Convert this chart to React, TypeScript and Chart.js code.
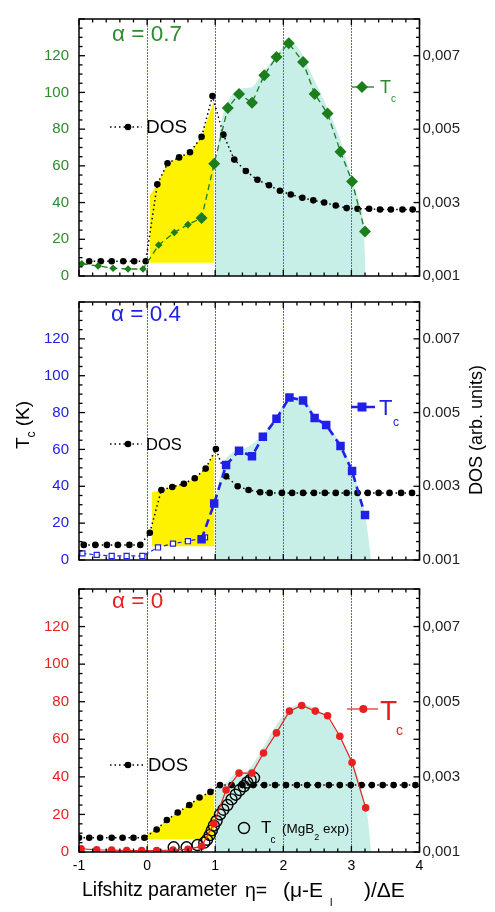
import React, { useEffect, useRef } from "react";
import { Chart, registerables } from "chart.js";

Chart.register(...registerables);

const FONT = "Arial, 'Liberation Sans', Helvetica, sans-serif";

// ---------------- axes ----------------
const X_MIN = -1;
const X_MAX = 4;
const TC_MIN = 0;
const TC_MAX = 140;
const DOS_MIN = 0.001;
const DOS_MAX = 0.008;
const X_TICKS = [-1, 0, 1, 2, 3, 4];
const TC_TICKS = [0, 20, 40, 60, 80, 100, 120];
const DOS_TICKS = [0.001, 0.003, 0.005, 0.007];
const GUIDE_X = [0, 1, 2, 3];

// ---------------- alpha = 0.7 ----------------
const a07DosX = [-0.85, -0.68, -0.52, -0.35, -0.19, -0.02, 0.15, 0.3, 0.47, 0.63, 0.8, 0.96, 1.12, 1.28, 1.45, 1.62, 1.79, 1.95, 2.11, 2.28, 2.44, 2.6, 2.77, 2.93, 3.09, 3.26, 3.42, 3.58, 3.75, 3.9];
const a07Dos = [0.0014, 0.0014, 0.0014, 0.0014, 0.0014, 0.0014, 0.0035, 0.00407, 0.00423, 0.00437, 0.00479, 0.0059, 0.00485, 0.00417, 0.00386, 0.00362, 0.00347, 0.00332, 0.00322, 0.00313, 0.00306, 0.003, 0.00292, 0.00285, 0.00283, 0.00283, 0.00281, 0.00281, 0.00281, 0.00281];
const a07TcX = [-0.96, -0.72, -0.5, -0.28, -0.06, 0.17, 0.4, 0.6, 0.8, 0.985, 1.185, 1.35, 1.54, 1.72, 1.9, 2.08, 2.29, 2.46, 2.65, 2.84, 3.01, 3.2];
const a07Tc = [6.7, 5.5, 4.2, 3.8, 3.8, 16.9, 23.7, 28, 31.6, 61.2, 91.5, 99.2, 94.4, 109.4, 119.3, 126.8, 116.6, 99.2, 88.5, 67.7, 51.5, 24.2];
const a07YellowX = [0.04, 0.15, 0.3, 0.47, 0.63, 0.8, 0.985];
const a07Yellow = [0.0032, 0.0035, 0.00407, 0.00423, 0.00437, 0.00479, 0.0058];
const a07YellowBase = 0.00136;
const a07CyanX = [1.0, 1.04, 1.1, 1.2, 1.37, 1.54, 1.72, 1.9, 2.08, 2.24, 2.44, 2.63, 2.83, 3.0, 3.12, 3.18, 3.21];
const a07Cyan = [58, 72, 86, 96, 102, 103, 112, 120, 128, 123, 108, 93, 75, 54, 39, 27, 0];

// ---------------- alpha = 0.4 ----------------
const a04DosX = [-0.93, -0.76, -0.59, -0.43, -0.26, -0.1, 0.04, 0.21, 0.37, 0.54, 0.7, 0.86, 1.01, 1.16, 1.33, 1.49, 1.66, 1.8, 1.98, 2.13, 2.29, 2.45, 2.61, 2.77, 2.93, 3.09, 3.24, 3.4, 3.56, 3.73, 3.89];
const a04Dos = [0.00141, 0.00141, 0.00141, 0.00141, 0.00141, 0.00141, 0.00174, 0.0029, 0.00298, 0.00307, 0.00322, 0.00348, 0.00401, 0.00327, 0.003, 0.0029, 0.00284, 0.00282, 0.00282, 0.00282, 0.00282, 0.00282, 0.00282, 0.00282, 0.00282, 0.00282, 0.00282, 0.00282, 0.00282, 0.00282, 0.00282];
const a04TcOpenX = [-0.95, -0.74, -0.52, -0.3, -0.07, 0.16, 0.38, 0.6, 0.85];
const a04TcOpen = [3.6, 2.8, 2.2, 2.2, 2.2, 6.8, 8.9, 10.2, 12.3];
const a04TcX = [0.8, 0.985, 1.16, 1.35, 1.54, 1.7, 1.9, 2.09, 2.29, 2.46, 2.63, 2.84, 3.01, 3.2];
const a04Tc = [11.3, 30.7, 51.5, 59.3, 56.3, 66.9, 76.7, 88.2, 86.6, 77.1, 73.3, 61.9, 48.3, 24.4];
const a04YellowX = [0.07, 0.21, 0.37, 0.54, 0.7, 0.86, 0.99];
const a04Yellow = [0.00284, 0.0029, 0.00298, 0.00307, 0.00322, 0.00348, 0.00394];
const a04YellowBase = 0.00137;
const a04CyanX = [1.0, 1.02, 1.12, 1.27, 1.46, 1.7, 1.9, 2.1, 2.29, 2.46, 2.63, 2.83, 3.01, 3.12, 3.22, 3.29];
const a04Cyan = [32, 36, 52, 58.6, 61, 68, 78, 88, 88, 79, 74, 64, 50, 36, 20, 0];

// ---------------- alpha = 0 ----------------
const a0DosX = [-1, -0.85, -0.69, -0.52, -0.36, -0.2, -0.04, 0.14, 0.29, 0.45, 0.62, 0.77, 0.93, 1.07, 1.24, 1.4, 1.56, 1.72, 1.88, 2.04, 2.2, 2.35, 2.51, 2.67, 2.83, 2.99, 3.15, 3.3, 3.46, 3.62, 3.78, 3.94];
const a0Dos = [0.00138, 0.00138, 0.00138, 0.00138, 0.00138, 0.00138, 0.00138, 0.0016, 0.00185, 0.00205, 0.00225, 0.00245, 0.0026, 0.00278, 0.00278, 0.00278, 0.00278, 0.00278, 0.00278, 0.00278, 0.00278, 0.00278, 0.00278, 0.00278, 0.00278, 0.00278, 0.00278, 0.00278, 0.00278, 0.00278, 0.00278, 0.00278];
const a0TcX = [-0.97, -0.74, -0.52, -0.3, -0.08, 0.14, 0.38, 0.6, 0.8, 0.98, 1.16, 1.35, 1.54, 1.71, 1.9, 2.09, 2.27, 2.47, 2.65, 2.83, 3.01, 3.21];
const a0Tc = [1.7, 1.2, 1.0, 0.8, 0.8, 0.8, 1.0, 1.5, 3, 15, 33, 42, 42, 52.7, 63.4, 75, 78, 75, 72.5, 61.6, 47.6, 23.5];
const mgb2X = [0.39, 0.58, 0.74, 0.84, 0.88, 0.92, 0.95, 0.98, 1.02, 1.07, 1.12, 1.18, 1.24, 1.3, 1.36, 1.42, 1.47, 1.52, 1.57];
const mgb2Tc = [2.5, 2.5, 3.7, 5, 6.5, 9, 11.5, 14, 16.5, 20, 22.5, 25, 28, 30.5, 33, 35, 37, 38.5, 39.5];
const a0YellowX = [0.0, 0.14, 0.29, 0.45, 0.62, 0.77, 0.93, 0.99];
const a0Yellow = [0.00149, 0.0016, 0.00185, 0.00205, 0.00225, 0.00245, 0.0026, 0.00269];
const a0YellowBase = 0.00134;
const a0CyanX = [1.0, 1.02, 1.17, 1.27, 1.46, 1.66, 1.85, 2.05, 2.24, 2.44, 2.63, 2.83, 3.02, 3.17, 3.24, 3.29];
const a0Cyan = [30, 33, 37, 41, 43, 53, 65, 75, 78.5, 77, 72, 61, 48, 30, 18, 0];

// ---------------- colours ----------------
const GREEN_TXT = "#2e8b2e";
const GREEN = "#1b7d1b";
const BLUE = "#2020e6";
const RED = "#e82020";
const YELLOW = "#fff200";
const CYAN = "#c8efe7";
const GUIDE = "rgba(80, 80, 255, 0.95)";

const pts = (xs: number[], ys: number[]) => xs.map((x, i) => ({ x, y: ys[i] }));

function txt(ctx: CanvasRenderingContext2D, s: string, x: number, y: number, size: number, color: string, align: CanvasTextAlign = "left") {
  ctx.font = `${size}px ${FONT}`;
  ctx.fillStyle = color;
  ctx.textAlign = align;
  ctx.textBaseline = "middle";
  ctx.fillText(s, x, y);
  return ctx.measureText(s).width;
}

function seg(ctx: CanvasRenderingContext2D, x1: number, y1: number, x2: number, y2: number, color: string, w: number, dash: number[] = []) {
  ctx.save();
  ctx.strokeStyle = color;
  ctx.lineWidth = w;
  ctx.setLineDash(dash);
  ctx.beginPath();
  ctx.moveTo(x1, y1);
  ctx.lineTo(x2, y2);
  ctx.stroke();
  ctx.restore();
}

function dot(ctx: CanvasRenderingContext2D, x: number, y: number, r: number, fill: string | null, stroke?: string, w = 1) {
  ctx.beginPath();
  ctx.arc(x, y, r, 0, Math.PI * 2);
  if (fill) {
    ctx.fillStyle = fill;
    ctx.fill();
  }
  if (stroke) {
    ctx.strokeStyle = stroke;
    ctx.lineWidth = w;
    ctx.stroke();
  }
}

function dosLegend(ctx: CanvasRenderingContext2D, y: number, size: number, textX: number) {
  seg(ctx, 110, y, textX - 4, y, "#000", 1.5, [1.5, 3]);
  dot(ctx, 128, y, 3.3, "#000");
  txt(ctx, "DOS", textX, y + 1, size, "#000");
}

type PanelDef = {
  top: number;
  height: number;
  padTop: number;
  xH: number;
  tickColor: string;
  sep: string;
  showX: boolean;
  datasets: any[];
  decor: (ctx: CanvasRenderingContext2D) => void;
};

const framePlugin = {
  id: "frameTicks",
  afterDatasetDraw(chart: any, args: any) {
    if (chart.data.datasets[args.index].label !== "cyan") return;
    const { top, bottom } = chart.chartArea;
    const xs = chart.scales.x;
    GUIDE_X.forEach((v) => {
      const px = Math.round(xs.getPixelForValue(v)) + 0.5;
      seg(chart.ctx, px, top, px, bottom, GUIDE, 1, [2, 1]);
    });
  },
  afterDraw(chart: any) {
    const ctx: CanvasRenderingContext2D = chart.ctx;
    const { left, right, top, bottom } = chart.chartArea;
    const xs = chart.scales.x;
    const ys = chart.scales.y;
    ctx.save();
    for (let k = 0; k <= 25; k++) {
      const px = xs.getPixelForValue(X_MIN + k * 0.2);
      const L = k % 5 === 0 ? 6 : 3.5;
      seg(ctx, px, bottom, px, bottom - L, "#000", 1.3);
      seg(ctx, px, top, px, top + L, "#000", 1.3);
    }
    for (let k = 0; k <= 28; k++) {
      const py = ys.getPixelForValue(TC_MIN + k * 5);
      const L = k % 4 === 0 ? 6 : 3.5;
      seg(ctx, left, py, left + L, py, "#000", 1.3);
      seg(ctx, right, py, right - L, py, "#000", 1.3);
    }
    ctx.strokeStyle = "#000";
    ctx.lineWidth = 1.5;
    ctx.setLineDash([]);
    ctx.strokeRect(left, top, right - left, bottom - top);
    ctx.restore();
  },
};

function buildConfig(def: PanelDef): any {
  const decorPlugin = {
    id: "decor",
    afterDraw(chart: any) {
      const ctx: CanvasRenderingContext2D = chart.ctx;
      ctx.save();
      ctx.translate(0, -def.top);
      def.decor(ctx);
      ctx.restore();
    },
  };
  return {
    type: "line",
    data: { datasets: def.datasets },
    options: {
      responsive: false,
      animation: false,
      events: [],
      layout: { autoPadding: false, padding: { top: def.padTop, left: 0, right: 0, bottom: 0 } },
      plugins: { legend: { display: false }, tooltip: { enabled: false }, title: { display: false } },
      scales: {
        x: {
          type: "linear",
          min: X_MIN,
          max: X_MAX,
          position: "bottom",
          afterBuildTicks: (s: any) => {
            s.ticks = X_TICKS.map((v) => ({ value: v }));
          },
          ticks: {
            display: def.showX,
            color: "#000",
            font: { size: 14, family: FONT },
            padding: 6,
            maxRotation: 0,
            autoSkip: false,
            callback: (v: number) => String(v),
          },
          grid: { display: false, drawTicks: false },
          border: { display: false },
          afterFit: (s: any) => {
            s.height = def.xH;
          },
        },
        y: {
          type: "linear",
          min: TC_MIN,
          max: TC_MAX,
          position: "left",
          afterBuildTicks: (s: any) => {
            s.ticks = TC_TICKS.map((v) => ({ value: v }));
          },
          ticks: {
            color: def.tickColor,
            font: { size: 15, family: FONT },
            padding: 10,
            callback: (v: number) => String(v),
          },
          grid: { display: false, drawTicks: false },
          border: { display: false },
          afterFit: (s: any) => {
            s.width = 79;
          },
        },
        y1: {
          type: "linear",
          min: DOS_MIN,
          max: DOS_MAX,
          position: "right",
          afterBuildTicks: (s: any) => {
            s.ticks = DOS_TICKS.map((v) => ({ value: v }));
          },
          ticks: {
            color: "#222",
            font: { size: 15, family: FONT },
            padding: 3,
            callback: (v: number) => v.toFixed(3).replace(".", def.sep),
          },
          grid: { display: false, drawTicks: false },
          border: { display: false },
          afterFit: (s: any) => {
            s.width = 75.5;
          },
        },
      },
    },
    plugins: [framePlugin, decorPlugin],
  };
}

const dosDataset = (xs: number[], ys: number[]) => ({
  label: "DOS",
  data: pts(xs, ys),
  yAxisID: "y1",
  order: 2,
  borderColor: "#000",
  borderWidth: 1.5,
  borderDash: [1.5, 3],
  pointRadius: 3.3,
  pointBackgroundColor: "#000",
  pointBorderWidth: 0,
  fill: false,
});

const yellowDataset = (xs: number[], ys: number[], base: number) => ({
  label: "yellow",
  data: pts(xs, ys),
  yAxisID: "y1",
  order: 11,
  borderWidth: 0,
  borderColor: "rgba(0,0,0,0)",
  backgroundColor: YELLOW,
  pointRadius: 0,
  fill: { value: base },
});

const cyanDataset = (xs: number[], ys: number[]) => ({
  label: "cyan",
  data: pts(xs, ys),
  yAxisID: "y",
  order: 10,
  borderWidth: 0,
  borderColor: "rgba(0,0,0,0)",
  backgroundColor: CYAN,
  pointRadius: 0,
  cubicInterpolationMode: "monotone",
  fill: "origin",
});

function xTitle(ctx: CanvasRenderingContext2D) {
  const y = 891;
  const f = 19.5;
  txt(ctx, "Lifshitz parameter", 82, y, f, "#000");
  txt(ctx, "η=", 245, y + 1, f, "#000");
  const w = txt(ctx, "(μ-E", 283, y, 21, "#000");
  txt(ctx, "l", 283 + w + 7, y + 12, 11, "#000");
  txt(ctx, ")/ΔE", 364, y, 21, "#000");
}

const PANELS: PanelDef[] = [
  {
    top: 0,
    height: 295,
    padTop: 9,
    xH: 13,
    tickColor: GREEN_TXT,
    sep: ",",
    showX: false,
    datasets: [
      {
        label: "Tc",
        data: pts(a07TcX, a07Tc),
        yAxisID: "y",
        order: 0,
        borderColor: GREEN,
        borderWidth: 1.3,
        borderDash: [6, 4],
        pointStyle: "rectRot",
        pointRadius: (c: any) => (c.raw && c.raw.x < 0.7 ? 3.8 : 6),
        pointBackgroundColor: GREEN,
        pointBorderColor: GREEN,
        pointBorderWidth: 0,
        fill: false,
      },
      dosDataset(a07DosX, a07Dos),
      yellowDataset(a07YellowX, a07Yellow, a07YellowBase),
      cyanDataset(a07CyanX, a07Cyan),
    ],
    decor: (ctx) => {
      txt(ctx, "α = 0.7", 112, 35, 22.5, GREEN_TXT);
      dosLegend(ctx, 127, 19, 146);
      seg(ctx, 352, 87, 374, 87, GREEN, 1.3);
      ctx.save();
      ctx.translate(362, 87);
      ctx.rotate(Math.PI / 4);
      ctx.fillStyle = GREEN;
      ctx.fillRect(-4.2, -4.2, 8.4, 8.4);
      ctx.restore();
      txt(ctx, "T", 380, 88, 18, GREEN_TXT);
      txt(ctx, "c", 391, 99, 10, GREEN_TXT);
    },
  },
  {
    top: 283,
    height: 296,
    padTop: 10,
    xH: 12,
    tickColor: BLUE,
    sep: ".",
    showX: false,
    datasets: [
      {
        label: "Tc open",
        data: pts(a04TcOpenX, a04TcOpen),
        yAxisID: "y",
        order: 1,
        borderColor: BLUE,
        borderWidth: 1.2,
        borderDash: [4, 3],
        pointStyle: "rect",
        pointRadius: 3.6,
        pointBackgroundColor: "#fff",
        pointBorderColor: BLUE,
        pointBorderWidth: 1.2,
        fill: false,
      },
      {
        label: "Tc",
        data: pts(a04TcX, a04Tc),
        yAxisID: "y",
        order: 0,
        borderColor: BLUE,
        borderWidth: 2.6,
        borderDash: [8, 5],
        pointStyle: "rect",
        pointRadius: 6,
        pointBackgroundColor: BLUE,
        pointBorderColor: BLUE,
        pointBorderWidth: 0,
        fill: false,
      },
      dosDataset(a04DosX, a04Dos),
      yellowDataset(a04YellowX, a04Yellow, a04YellowBase),
      cyanDataset(a04CyanX, a04Cyan),
    ],
    decor: (ctx) => {
      txt(ctx, "α = 0.4", 111, 315, 22.5, BLUE);
      dosLegend(ctx, 444, 16.5, 146);
      seg(ctx, 351, 407, 375, 407, BLUE, 2.5);
      ctx.fillStyle = BLUE;
      ctx.fillRect(357.5, 402.5, 9, 9);
      txt(ctx, "T", 379, 409, 22, BLUE);
      txt(ctx, "c", 393, 423, 12, BLUE);
      // left axis title
      ctx.save();
      ctx.translate(24, 425);
      ctx.rotate(-Math.PI / 2);
      ctx.font = `19px ${FONT}`;
      const wT = ctx.measureText("T").width;
      ctx.font = `12px ${FONT}`;
      const wc = ctx.measureText("c").width;
      ctx.font = `19px ${FONT}`;
      const wK = ctx.measureText(" (K)").width;
      const total = wT + wc + wK;
      const x0 = -total / 2;
      txt(ctx, "T", x0, 0, 19, "#000");
      txt(ctx, "c", x0 + wT, 8, 12, "#000");
      txt(ctx, " (K)", x0 + wT + wc, 0, 19, "#000");
      ctx.restore();
      // right axis title
      ctx.save();
      ctx.translate(477, 430);
      ctx.rotate(-Math.PI / 2);
      txt(ctx, "DOS (arb. units)", 0, 0, 18, "#000", "center");
      ctx.restore();
    },
  },
  {
    top: 570,
    height: 342,
    padTop: 11,
    xH: 60,
    tickColor: RED,
    sep: ",",
    showX: true,
    datasets: [
      {
        label: "Tc",
        data: pts(a0TcX, a0Tc),
        yAxisID: "y",
        order: 0,
        borderColor: RED,
        borderWidth: 1.2,
        pointStyle: "circle",
        pointRadius: 3.8,
        pointBackgroundColor: RED,
        pointBorderWidth: 0,
        fill: false,
      },
      {
        label: "MgB2",
        data: pts(mgb2X, mgb2Tc),
        yAxisID: "y",
        order: 1,
        showLine: false,
        pointStyle: "circle",
        pointRadius: 5.5,
        pointBackgroundColor: "rgba(0,0,0,0)",
        pointBorderColor: "#000",
        pointBorderWidth: 1.4,
        fill: false,
      },
      dosDataset(a0DosX, a0Dos),
      yellowDataset(a0YellowX, a0Yellow, a0YellowBase),
      cyanDataset(a0CyanX, a0Cyan),
    ],
    decor: (ctx) => {
      txt(ctx, "α = 0", 112, 602, 22.5, RED);
      dosLegend(ctx, 765, 18.5, 148);
      seg(ctx, 347, 709, 378, 709, RED, 1.2);
      dot(ctx, 363.3, 709, 4, RED);
      txt(ctx, "T", 380, 712, 28, RED);
      txt(ctx, "c", 396, 731, 14, RED);
      // MgB2 legend
      dot(ctx, 244, 828, 5.5, null, "#000", 1.4);
      txt(ctx, "T", 261, 828, 17, "#000");
      txt(ctx, "c", 270.5, 840, 10, "#000");
      let x = 282;
      x += txt(ctx, "(MgB", x, 829, 13.5, "#000");
      x += txt(ctx, "2", x, 838, 9, "#000");
      txt(ctx, " exp)", x, 829, 13.5, "#000");
      xTitle(ctx);
    },
  },
];

function Panel({ def }: { def: PanelDef }) {
  const ref = useRef<HTMLCanvasElement>(null);
  useEffect(() => {
    if (!ref.current) return;
    const chart = new Chart(ref.current, buildConfig(def));
    return () => chart.destroy();
  }, [def]);
  return (
    <canvas
      ref={ref}
      width={495}
      height={def.height}
      style={{ position: "absolute", left: 0, top: def.top, width: 495, height: def.height }}
    />
  );
}

export default function App() {
  return (
    <div style={{ position: "absolute", left: 0, top: 0, width: 495, height: 912, background: "#fff", overflow: "hidden" }}>
      {PANELS.map((p, i) => (
        <Panel key={i} def={p} />
      ))}
    </div>
  );
}
